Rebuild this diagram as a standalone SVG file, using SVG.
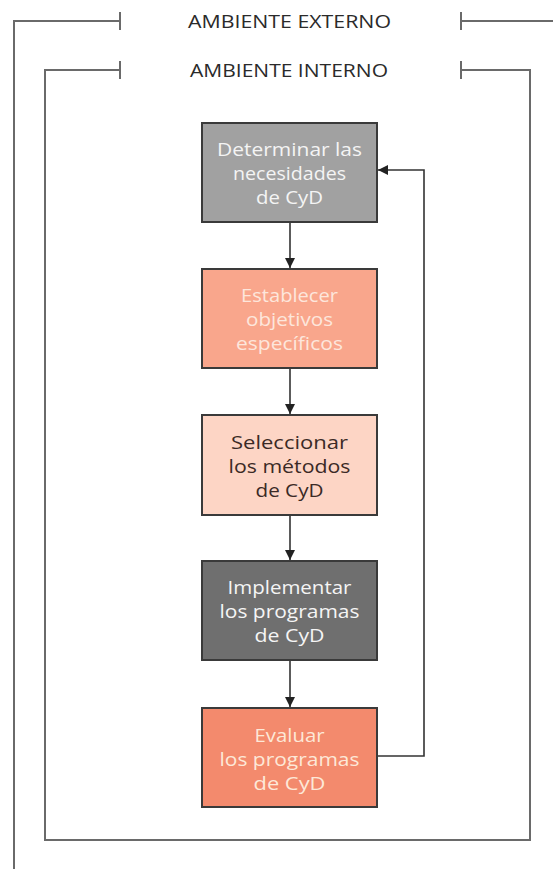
<svg xmlns="http://www.w3.org/2000/svg" width="553" height="869" viewBox="0 0 553 869">
<style>
.frame{fill:none;stroke:#6a6a6a;stroke-width:2}
.hdr{font-family:"Open Sans","Liberation Sans",sans-serif;font-size:18px;fill:#2a2a2a}
.box{stroke:#3a3a3a;stroke-width:2}
.lbl{font-family:"Open Sans","Liberation Sans",sans-serif;font-size:17.5px;text-anchor:middle}
.conn{fill:none;stroke:#333;stroke-width:1.6}
</style>
<defs>
<marker id="ah" viewBox="0 0 10 10" refX="10" refY="5" markerWidth="10" markerHeight="10" markerUnits="userSpaceOnUse" orient="auto">
<path d="M0,0 L10,5 L0,10 z" fill="#222"/>
</marker>
</defs>
<rect width="553" height="869" fill="#fff"/>
<g id="ambiente-externo">
<path class="frame" d="M14,869 V21 H120 M120,12 V30 M461,12 V30 M461,21 H553"/>
<text class="hdr" x="188" y="28" textLength="203" lengthAdjust="spacingAndGlyphs">AMBIENTE EXTERNO</text>
</g>
<g id="ambiente-interno">
<path class="frame" d="M120,61 V79 M120,70 H45 V840 H530 V70 H461 M461,61 V79"/>
<text class="hdr" x="190" y="77" textLength="198" lengthAdjust="spacingAndGlyphs">AMBIENTE INTERNO</text>
</g>
<g id="n1">
<rect class="box" x="202" y="123" width="175" height="99" fill="#a1a1a1"/>
<text class="lbl" fill="#f4f4f4"><tspan x="289.5" y="156" textLength="145" lengthAdjust="spacingAndGlyphs">Determinar las</tspan><tspan x="289.5" y="180" textLength="113" lengthAdjust="spacingAndGlyphs">necesidades</tspan><tspan x="289.5" y="204" textLength="67" lengthAdjust="spacingAndGlyphs">de CyD</tspan></text>
</g>
<g id="n2">
<rect class="box" x="202" y="269" width="175" height="99" fill="#f9a68c"/>
<text class="lbl" fill="#fde6dc"><tspan x="289.5" y="302" textLength="97" lengthAdjust="spacingAndGlyphs">Establecer</tspan><tspan x="289.5" y="326" textLength="87" lengthAdjust="spacingAndGlyphs">objetivos</tspan><tspan x="289.5" y="350" textLength="107" lengthAdjust="spacingAndGlyphs">específicos</tspan></text>
</g>
<g id="n3">
<rect class="box" x="202" y="415" width="175" height="100" fill="#fdd5c5"/>
<text class="lbl" fill="#3b2a26"><tspan x="289.5" y="449" textLength="117" lengthAdjust="spacingAndGlyphs">Seleccionar</tspan><tspan x="289.5" y="473" textLength="122" lengthAdjust="spacingAndGlyphs">los métodos</tspan><tspan x="289.5" y="497" textLength="68" lengthAdjust="spacingAndGlyphs">de CyD</tspan></text>
</g>
<g id="n4">
<rect class="box" x="202" y="561" width="175" height="99" fill="#6f6f6f"/>
<text class="lbl" fill="#f5f5f5"><tspan x="289.5" y="594" textLength="124" lengthAdjust="spacingAndGlyphs">Implementar</tspan><tspan x="289.5" y="618" textLength="140" lengthAdjust="spacingAndGlyphs">los programas</tspan><tspan x="289.5" y="642" textLength="70" lengthAdjust="spacingAndGlyphs">de CyD</tspan></text>
</g>
<g id="n5">
<rect class="box" x="202" y="708" width="175" height="99" fill="#f38a6d"/>
<text class="lbl" fill="#fde8d8"><tspan x="289.5" y="742" textLength="70" lengthAdjust="spacingAndGlyphs">Evaluar</tspan><tspan x="289.5" y="766" textLength="140" lengthAdjust="spacingAndGlyphs">los programas</tspan><tspan x="289.5" y="790" textLength="72" lengthAdjust="spacingAndGlyphs">de CyD</tspan></text>
</g>
<g id="connectors">
<path class="conn" d="M290,223 V268" marker-end="url(#ah)"/>
<path class="conn" d="M290,369 V414" marker-end="url(#ah)"/>
<path class="conn" d="M290,516 V560" marker-end="url(#ah)"/>
<path class="conn" d="M290,661 V707" marker-end="url(#ah)"/>
<path class="conn" d="M378,756 H424 V170 H378" marker-end="url(#ah)"/>
</g>
</svg>
